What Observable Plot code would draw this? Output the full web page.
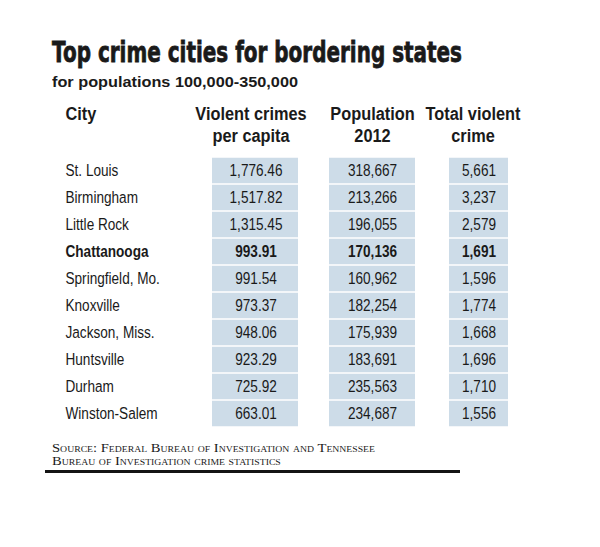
<!DOCTYPE html>
<html><head><meta charset="utf-8">
<script src="https://cdn.jsdelivr.net/npm/d3@7"></script>
<script src="https://cdn.jsdelivr.net/npm/@observablehq/plot@0.6"></script>
<style>
html,body{margin:0;padding:0;background:#fff}
body{width:600px;height:547px;overflow:hidden;position:relative;color:#1a1a1a}
.abs{position:absolute;white-space:nowrap;transform-origin:0 0}
#title{left:52px;top:38.7px;font-family:"DejaVu Sans",sans-serif;font-weight:bold;font-size:27.5px;line-height:27.5px;-webkit-text-stroke:0.8px #1a1a1a}
#subtitle{left:52px;top:74px;font-family:"Liberation Sans",Arial,sans-serif;font-weight:bold;font-size:15.5px;line-height:15.5px}
#chart{left:0;top:95px}
.src{left:52px;font-family:"Liberation Serif","DejaVu Serif",serif;font-variant:small-caps;font-size:12px;line-height:13px}
#src1{top:441.5px}
#src2{top:454.5px}
#rule{position:absolute;left:45px;top:469.5px;width:415px;height:3px;background:#141414}
</style>
</head><body>
<div id="title" class="abs">Top crime cities for bordering states</div>
<div id="subtitle" class="abs">for populations 100,000-350,000</div>
<div id="chart" class="abs"></div>
<div id="src1" class="abs src">Source: Federal Bureau of Investigation and Tennessee</div>
<div id="src2" class="abs src">Bureau of Investigation crime statistics</div>
<div id="rule"></div>
<script>
// ---- data ----
const cities = ["St. Louis", "Birmingham", "Little Rock", "Chattanooga", "Springfield, Mo.", "Knoxville", "Jackson, Miss.", "Huntsville", "Durham", "Winston-Salem"];
const perCapita = [1776.46, 1517.82, 1315.45, 993.91, 991.54, 973.37, 948.06, 923.29, 725.92, 663.01];
const population2012 = [318667, 213266, 196055, 170136, 160962, 182254, 175939, 183691, 235563, 234687];
const totalViolent = [5661, 3237, 2579, 1691, 1596, 1774, 1668, 1696, 1710, 1556];
const columnKeys = ["city", "rate", "pop", "total"];
const columnHeaders = ["City", "Violent crimes\nper capita", "Population\n2012", "Total violent\ncrime"];
const highlightCity = "Chattanooga";

// ---- table built from the arrays ----
const fmtRate = d3.format(",.2f"), fmtInt = d3.format(",");
const cells = [];
cities.forEach((c, i) => {
  cells.push({city: c, col: "rate", label: fmtRate(perCapita[i])});
  cells.push({city: c, col: "pop", label: fmtInt(population2012[i])});
  cells.push({city: c, col: "total", label: fmtInt(totalViolent[i])});
});
const headers = columnKeys.map((k, i) => ({col: k, label: columnHeaders[i]}));

const FONT = '"Liberation Sans",Arial,sans-serif';
const BOX = "#cddce8";
const INK = "#1a1a1a";
const BODY = 17, HEAD = 19;
const isHi = d => d.city === highlightCity;

// per-column styling
const colStyle = {
  rate:  {insetLeft: 12, insetRight: 19, dx: -3, hdx: -8},
  pop:   {insetLeft: 12, insetRight: 19, dx: -3.5, hdx: -3.5},
  total: {insetLeft: 15, insetRight: 43, dx: -14, hdx: -20}
};

const marks = [];
for (const k of ["rate", "pop", "total"]) {
  const s = colStyle[k];
  const data = cells.filter(d => d.col === k);
  marks.push(Plot.cell(data, {x: "col", y: "city", fill: BOX, insetLeft: s.insetLeft, insetRight: s.insetRight, insetTop: 0.75, insetBottom: 0.75}));
  marks.push(Plot.text(data.filter(d => !isHi(d)), {x: "col", y: "city", text: "label", dx: s.dx, fontSize: BODY, fill: INK}));
  marks.push(Plot.text(data.filter(isHi), {x: "col", y: "city", text: "label", dx: s.dx, fontSize: BODY, fontWeight: "bold", fill: INK}));
  marks.push(Plot.text(headers.filter(h => h.col === k), {x: "col", text: "label", frameAnchor: "top", lineAnchor: "top", lineHeight: 1.16, dy: -53.6, dx: s.hdx, fontSize: HEAD, fontWeight: "bold", fill: INK}));
}
// city names
const cityRows = cities.map(c => ({city: c, col: "city"}));
marks.push(Plot.text(cityRows.filter(d => !isHi(d)), {x: "col", y: "city", text: "city", textAnchor: "start", dx: -76.5, fontSize: BODY, fill: INK}));
marks.push(Plot.text(cityRows.filter(isHi), {x: "col", y: "city", text: "city", textAnchor: "start", dx: -76.5, fontSize: BODY, fontWeight: "bold", fill: INK}));
marks.push(Plot.text(headers.filter(h => h.col === "city"), {x: "col", text: "label", frameAnchor: "top", lineAnchor: "top", lineHeight: 1.16, dy: -53.6, textAnchor: "start", dx: -76.5, fontSize: HEAD, fontWeight: "bold", fill: INK}));

const chart = Plot.plot({
  width: 600,
  height: 345,
  marginLeft: 83,
  marginRight: 49,
  marginTop: 62,
  marginBottom: 13,
  style: {fontFamily: FONT, background: "transparent", color: INK, overflow: "visible"},
  x: {domain: columnKeys, paddingInner: 0, paddingOuter: 0, axis: null},
  y: {domain: cities, paddingInner: 0, paddingOuter: 0, axis: null},
  marks
});
document.getElementById("chart").appendChild(chart);

// condensed look: narrow every text horizontally around its anchor
chart.querySelectorAll("text").forEach(t => {
  const g = t.closest("g[font-size]");
  const fs = g ? +g.getAttribute("font-size") : BODY;
  const sx = fs >= HEAD ? 0.86 : 0.8;
  const tr = t.getAttribute("transform") || "";
  t.setAttribute("transform", `${tr} scale(${sx},1)`);
});

// fit horizontal widths of the HTML texts to the reference
function fit(id, w) {
  const el = document.getElementById(id);
  const cur = el.getBoundingClientRect().width;
  el.style.transform = `scaleX(${w / cur})`;
  return w / cur;
}
fit("title", 410);
fit("subtitle", 246);
const sc = fit("src1", 323);
document.getElementById("src2").style.transform = `scaleX(${sc})`;
</script>
</body></html>
